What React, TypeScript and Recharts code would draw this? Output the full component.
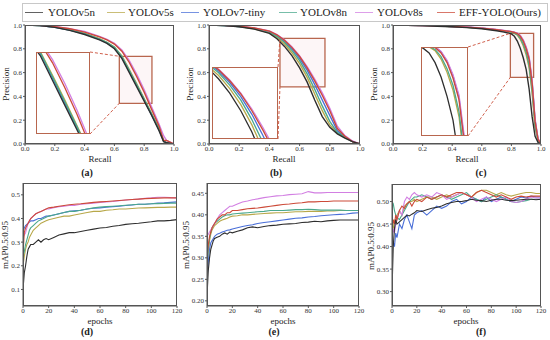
import React from 'react';
import { LineChart, Line, XAxis, YAxis, ReferenceArea } from 'recharts';

const FONT = '"Liberation Serif", "Times New Roman", serif';

const models = ['YOLOv5n', 'YOLOv5s', 'YOLOv7-tiny', 'YOLOv8n', 'YOLOv8s', 'EFF-YOLO(Ours)'];
const colors = ['#2e2e2e', '#b8a84a', '#4a6fd8', '#4aa88c', '#d27fe2', '#cc4a38'];

// ---- PR curves (a) ----
const recallA = [0, 0.1, 0.2, 0.3, 0.4, 0.5, 0.55, 0.6, 0.65, 0.7, 0.75, 0.8, 0.85, 0.9, 0.93, 0.95, 1.0];
const precA = [
  [1, 0.995, 0.98, 0.955, 0.92, 0.875, 0.845, 0.8, 0.72, 0.6, 0.48, 0.36, 0.24, 0.11, 0.02, 0.01, 0],
  [1, 0.995, 0.982, 0.96, 0.93, 0.885, 0.855, 0.815, 0.74, 0.625, 0.505, 0.38, 0.255, 0.13, 0.03, 0.01, 0],
  [1, 0.995, 0.98, 0.957, 0.925, 0.88, 0.85, 0.808, 0.73, 0.61, 0.49, 0.37, 0.245, 0.12, 0.025, 0.01, 0],
  [1, 0.995, 0.982, 0.958, 0.928, 0.882, 0.852, 0.812, 0.735, 0.617, 0.497, 0.375, 0.25, 0.125, 0.03, 0.01, 0],
  [1, 0.997, 0.988, 0.97, 0.945, 0.905, 0.88, 0.845, 0.79, 0.7, 0.585, 0.455, 0.31, 0.165, 0.07, 0.03, 0],
  [1, 0.997, 0.986, 0.968, 0.94, 0.9, 0.875, 0.84, 0.78, 0.685, 0.565, 0.435, 0.29, 0.15, 0.03, 0.03, 0],
];

// ---- PR curves (b) ----
const recallB = [0, 0.1, 0.2, 0.3, 0.4, 0.45, 0.5, 0.55, 0.6, 0.65, 0.7, 0.75, 0.8, 0.85, 0.9, 0.95, 1.0];
const precB = [
  [1, 0.995, 0.985, 0.965, 0.93, 0.885, 0.82, 0.74, 0.64, 0.52, 0.37, 0.23, 0.14, 0.085, 0.05, 0.02, 0],
  [1, 0.995, 0.986, 0.967, 0.935, 0.895, 0.84, 0.765, 0.675, 0.56, 0.42, 0.28, 0.16, 0.09, 0.055, 0.02, 0],
  [1, 0.996, 0.988, 0.972, 0.944, 0.912, 0.865, 0.8, 0.72, 0.62, 0.5, 0.37, 0.24, 0.11, 0.06, 0.02, 0],
  [1, 0.996, 0.987, 0.97, 0.94, 0.905, 0.855, 0.785, 0.7, 0.59, 0.46, 0.32, 0.19, 0.095, 0.06, 0.02, 0],
  [1, 0.997, 0.99, 0.976, 0.95, 0.92, 0.875, 0.815, 0.74, 0.65, 0.545, 0.43, 0.3, 0.15, 0.07, 0.025, 0],
  [1, 0.997, 0.99, 0.975, 0.948, 0.918, 0.872, 0.81, 0.735, 0.64, 0.53, 0.41, 0.28, 0.13, 0.065, 0.02, 0],
];

// ---- PR curves (c) ----
const recallC = [0, 0.1, 0.2, 0.3, 0.4, 0.5, 0.6, 0.7, 0.75, 0.8, 0.82, 0.84, 0.86, 0.88, 0.9, 0.92, 0.94, 0.96, 0.98, 1.0];
const precC = [
  [1, 0.998, 0.995, 0.99, 0.985, 0.978, 0.968, 0.952, 0.94, 0.925, 0.905, 0.865, 0.805, 0.725, 0.625, 0.46, 0.23, 0.065, 0.012, 0],
  [1, 0.998, 0.996, 0.992, 0.987, 0.981, 0.972, 0.958, 0.948, 0.938, 0.93, 0.915, 0.88, 0.825, 0.75, 0.64, 0.43, 0.14, 0.03, 0],
  [1, 0.998, 0.996, 0.993, 0.988, 0.982, 0.974, 0.96, 0.952, 0.944, 0.938, 0.93, 0.91, 0.87, 0.81, 0.72, 0.52, 0.2, 0.04, 0],
  [1, 0.998, 0.996, 0.992, 0.987, 0.981, 0.972, 0.958, 0.949, 0.94, 0.932, 0.92, 0.89, 0.84, 0.77, 0.66, 0.455, 0.155, 0.03, 0],
  [1, 0.998, 0.996, 0.993, 0.988, 0.983, 0.975, 0.962, 0.954, 0.946, 0.94, 0.932, 0.912, 0.875, 0.815, 0.73, 0.535, 0.21, 0.045, 0],
  [1, 0.998, 0.996, 0.993, 0.988, 0.982, 0.974, 0.96, 0.952, 0.944, 0.937, 0.928, 0.905, 0.865, 0.8, 0.71, 0.51, 0.19, 0.04, 0],
];

// ---- mAP0.5:0.95 vs epochs (d), (e) ----
const epochsDE = [0, 1, 2, 3, 4, 5, 6, 8, 10, 12, 14, 16, 18, 20, 24, 28, 32, 36, 40, 45, 50, 55, 60, 65, 70, 75, 80, 85, 90, 95, 100, 105, 110, 115, 120];
const mapD = [
  [0.1, 0.17, 0.2, 0.24, 0.27, 0.28, 0.29, 0.29, 0.3, 0.31, 0.3, 0.31, 0.315, 0.31, 0.32, 0.33, 0.335, 0.34, 0.34, 0.345, 0.35, 0.355, 0.36, 0.362, 0.367, 0.37, 0.375, 0.378, 0.38, 0.383, 0.386, 0.39, 0.39, 0.392, 0.395],
  [0.2, 0.24, 0.27, 0.29, 0.3, 0.32, 0.33, 0.35, 0.36, 0.37, 0.38, 0.385, 0.39, 0.395, 0.4, 0.405, 0.41, 0.41, 0.415, 0.42, 0.425, 0.43, 0.43, 0.435, 0.437, 0.44, 0.44, 0.442, 0.444, 0.445, 0.446, 0.447, 0.447, 0.448, 0.448],
  [0.34, 0.36, 0.37, 0.375, 0.38, 0.385, 0.39, 0.39, 0.395, 0.4, 0.4, 0.405, 0.41, 0.41, 0.415, 0.42, 0.425, 0.43, 0.432, 0.435, 0.44, 0.443, 0.445, 0.448, 0.45, 0.452, 0.455, 0.457, 0.46, 0.46, 0.462, 0.465, 0.466, 0.468, 0.47],
  [0.24, 0.26, 0.29, 0.31, 0.33, 0.35, 0.36, 0.37, 0.38, 0.39, 0.395, 0.4, 0.405, 0.41, 0.415, 0.42, 0.425, 0.43, 0.43, 0.435, 0.44, 0.445, 0.448, 0.45, 0.452, 0.454, 0.456, 0.458, 0.46, 0.46, 0.462, 0.463, 0.464, 0.465, 0.465],
  [0.35, 0.33, 0.34, 0.36, 0.38, 0.39, 0.4, 0.41, 0.42, 0.425, 0.43, 0.435, 0.44, 0.44, 0.445, 0.45, 0.452, 0.455, 0.455, 0.46, 0.462, 0.465, 0.468, 0.47, 0.472, 0.475, 0.478, 0.48, 0.482, 0.485, 0.487, 0.49, 0.49, 0.488, 0.487],
  [0.25, 0.34, 0.36, 0.37, 0.38, 0.39, 0.4, 0.41, 0.42, 0.425, 0.43, 0.435, 0.44, 0.445, 0.448, 0.452, 0.455, 0.458, 0.46, 0.462, 0.465, 0.468, 0.47, 0.472, 0.474, 0.476, 0.478, 0.48, 0.482, 0.484, 0.485, 0.486, 0.487, 0.487, 0.487],
];
const mapE = [
  [0.21, 0.27, 0.3, 0.32, 0.33, 0.34, 0.345, 0.348, 0.35, 0.355, 0.358, 0.355, 0.36, 0.358, 0.362, 0.365, 0.37, 0.372, 0.37, 0.373, 0.375, 0.376, 0.378, 0.379, 0.38, 0.382, 0.383, 0.385, 0.384, 0.386, 0.387, 0.388, 0.388, 0.388, 0.388],
  [0.27, 0.31, 0.34, 0.355, 0.365, 0.37, 0.375, 0.38, 0.385, 0.388, 0.39, 0.392, 0.395, 0.397, 0.398, 0.4, 0.4, 0.401, 0.402, 0.403, 0.404, 0.405, 0.405, 0.406, 0.407, 0.407, 0.408, 0.408, 0.408, 0.409, 0.409, 0.41, 0.41, 0.41, 0.41],
  [0.25, 0.29, 0.32, 0.335, 0.34, 0.345, 0.35, 0.355, 0.357, 0.36, 0.362, 0.364, 0.365, 0.367, 0.37, 0.373, 0.375, 0.377, 0.38, 0.382, 0.384, 0.386, 0.388, 0.39, 0.392, 0.393, 0.395, 0.396, 0.398, 0.399, 0.4, 0.401, 0.402, 0.404, 0.405],
  [0.29, 0.32, 0.345, 0.36, 0.37, 0.375, 0.38, 0.385, 0.39, 0.395, 0.398, 0.4, 0.4, 0.402, 0.403, 0.404, 0.405, 0.406, 0.407, 0.408, 0.41, 0.41, 0.41, 0.411, 0.412, 0.412, 0.413, 0.412, 0.411, 0.411, 0.411, 0.411, 0.41, 0.41, 0.41],
  [0.35, 0.355, 0.36, 0.365, 0.37, 0.375, 0.38, 0.39, 0.4, 0.405, 0.41, 0.415, 0.42, 0.42, 0.425, 0.43, 0.432, 0.435, 0.437, 0.44, 0.442, 0.444, 0.445, 0.447, 0.448, 0.449, 0.454, 0.451, 0.451, 0.452, 0.452, 0.452, 0.452, 0.452, 0.452],
  [0.3, 0.33, 0.35, 0.36, 0.37, 0.375, 0.38, 0.39, 0.395, 0.4, 0.4, 0.405, 0.405, 0.41, 0.41, 0.412, 0.414, 0.415, 0.416, 0.418, 0.42, 0.422, 0.424, 0.425, 0.427, 0.428, 0.43, 0.43, 0.431, 0.431, 0.432, 0.432, 0.432, 0.432, 0.432],
];

// ---- mAP0.5:0.95 vs epochs (f) ----
const epochsF = [0, 1, 2, 3, 4, 6, 8, 10, 12, 14, 16, 18, 20, 24, 28, 32, 36, 40, 44, 48, 52, 56, 60, 64, 68, 72, 76, 80, 84, 88, 92, 96, 100, 104, 108, 112, 116, 120];
const mapF = [
  [0.3, 0.4, 0.44, 0.46, 0.45, 0.455, 0.46, 0.465, 0.47, 0.468, 0.472, 0.475, 0.48, 0.478, 0.482, 0.485, 0.487, 0.49, 0.495, 0.498, 0.5, 0.5, 0.502, 0.505, 0.503, 0.502, 0.5, 0.503, 0.505, 0.505, 0.503, 0.502, 0.503, 0.504, 0.505, 0.505, 0.504, 0.505],
  [0.45, 0.44, 0.46, 0.45, 0.47, 0.48, 0.47, 0.49, 0.495, 0.5, 0.5, 0.505, 0.5, 0.505, 0.51, 0.51, 0.505, 0.51, 0.515, 0.51, 0.515, 0.52, 0.515, 0.51, 0.52, 0.525, 0.525, 0.52, 0.515, 0.52, 0.515, 0.512, 0.515, 0.518, 0.52, 0.52, 0.518, 0.518],
  [0.39, 0.41, 0.4, 0.43, 0.42, 0.45, 0.44, 0.46, 0.47, 0.455, 0.44, 0.47, 0.475, 0.48, 0.47, 0.48, 0.49, 0.485, 0.49, 0.5, 0.505, 0.495, 0.5, 0.51, 0.505, 0.5, 0.51, 0.5, 0.505, 0.51, 0.505, 0.5, 0.505, 0.51, 0.508, 0.512, 0.51, 0.51],
  [0.5, 0.495, 0.48, 0.47, 0.465, 0.46, 0.47, 0.48, 0.49, 0.5, 0.505, 0.51, 0.51, 0.515, 0.51, 0.505, 0.51, 0.515, 0.51, 0.505, 0.51, 0.515, 0.52, 0.51, 0.505, 0.5, 0.505, 0.51, 0.515, 0.51, 0.505, 0.5, 0.498, 0.5, 0.502, 0.505, 0.505, 0.505],
  [0.42, 0.44, 0.43, 0.45, 0.46, 0.48, 0.47, 0.5, 0.51, 0.505, 0.515, 0.52, 0.515, 0.51, 0.515, 0.51, 0.52, 0.515, 0.505, 0.51, 0.515, 0.52, 0.515, 0.51, 0.5, 0.505, 0.51, 0.505, 0.5, 0.505, 0.51, 0.5, 0.498, 0.5, 0.505, 0.51, 0.508, 0.508],
  [0.44, 0.46, 0.45, 0.47, 0.46, 0.48, 0.49, 0.485, 0.495, 0.5, 0.49, 0.5, 0.505, 0.5, 0.51, 0.505, 0.51, 0.515, 0.51, 0.515, 0.52, 0.52, 0.515, 0.51, 0.52, 0.525, 0.52, 0.515, 0.51, 0.515, 0.51, 0.505, 0.51, 0.512, 0.51, 0.512, 0.512, 0.512],
];

const prTicks = [0, 0.2, 0.4, 0.6, 0.8, 1.0];
const epochTicks = [0, 20, 40, 60, 80, 100, 120];
const yTicksD = [0.1, 0.2, 0.3, 0.4, 0.5];
const yTicksE = [0.2, 0.25, 0.3, 0.35, 0.4, 0.45];
const yTicksF = [0.3, 0.35, 0.4, 0.45, 0.5];

const drawOrder = [1, 2, 3, 4, 5, 0];

type Box = { l: number; t: number; r: number; b: number };
type Zoom = { x1: number; x2: number; y1: number; y2: number };

const toPts = (xs: number[], ys: number[]) => xs.map((x, i) => ({ x, y: ys[i] }));

const YW = 22;
const XH = 12;
const tickStyle = { fontSize: 7, fill: '#333', fontFamily: FONT };

function Panel(props: {
  box: Box;
  xDomain: [number, number];
  yDomain: [number, number];
  xTicks: number[];
  yTicks: number[];
  xFmt: (v: number) => string;
  yFmt: (v: number) => string;
  xs: number[];
  series: number[][];
  sw: number;
  zoom?: Zoom;
}) {
  const { box, xDomain, yDomain, xTicks, yTicks, xFmt, yFmt, xs, series, sw, zoom } = props;
  const w = box.r - box.l;
  const h = box.b - box.t;
  return (
    <div style={{ position: 'absolute', left: box.l - YW, top: box.t - 3 }}>
      <LineChart width={w + YW + 8} height={h + XH + 3} margin={{ top: 3, right: 8, left: 0, bottom: 0 }}>
        <XAxis
          dataKey="x"
          type="number"
          domain={xDomain}
          ticks={xTicks}
          tickFormatter={xFmt}
          height={XH}
          tickSize={2}
          tickMargin={0}
          tick={tickStyle}
          stroke="#555"
          allowDataOverflow
        />
        <YAxis
          type="number"
          domain={yDomain}
          ticks={yTicks}
          tickFormatter={yFmt}
          width={YW}
          tickSize={2}
          tickMargin={1}
          tick={tickStyle}
          stroke="#555"
          allowDataOverflow
        />
        {zoom && (
          <ReferenceArea
            x1={zoom.x1}
            x2={zoom.x2}
            y1={zoom.y1}
            y2={zoom.y2}
            stroke="#b8664e"
            strokeWidth={1.3}
            fill="#fbeef0"
            fillOpacity={0.5}
          />
        )}
        {drawOrder.map((i) => (
          <Line
            key={models[i]}
            data={toPts(xs, series[i])}
            dataKey="y"
            stroke={colors[i]}
            strokeWidth={sw}
            dot={false}
            isAnimationActive={false}
          />
        ))}
      </LineChart>
      <div
        style={{
          position: 'absolute',
          left: YW,
          top: 3,
          width: w,
          height: h,
          border: '1px solid #555',
          boxSizing: 'border-box',
          pointerEvents: 'none',
        }}
      />
    </div>
  );
}

function Inset(props: { box: Box; zoom: Zoom; xs: number[]; series: number[][] }) {
  const { box, zoom, xs, series } = props;
  const w = box.r - box.l;
  const h = box.b - box.t;
  return (
    <div style={{ position: 'absolute', left: box.l, top: box.t, width: w, height: h, background: '#fff' }}>
      <LineChart width={w} height={h} margin={{ top: 0, right: 0, left: 0, bottom: 0 }}>
        <XAxis dataKey="x" type="number" domain={[zoom.x1, zoom.x2]} hide allowDataOverflow />
        <YAxis type="number" domain={[zoom.y1, zoom.y2]} hide allowDataOverflow />
        {drawOrder.map((i) => (
          <Line
            key={models[i]}
            data={toPts(xs, series[i])}
            dataKey="y"
            stroke={colors[i]}
            strokeWidth={1.3}
            dot={false}
            isAnimationActive={false}
          />
        ))}
      </LineChart>
      <div
        style={{
          position: 'absolute',
          inset: 0,
          border: '1.5px solid #b8664e',
          boxSizing: 'border-box',
        }}
      />
    </div>
  );
}

// pixel position of a data value inside a panel's plot box
const px = (box: Box, d: [number, number], v: number) => box.l + ((v - d[0]) / (d[1] - d[0])) * (box.r - box.l);
const py = (box: Box, d: [number, number], v: number) => box.b - ((v - d[0]) / (d[1] - d[0])) * (box.b - box.t);

function Connectors(props: { box: Box; zoom: Zoom; inset: Box }) {
  const { box, zoom, inset } = props;
  const d: [number, number] = [0, 1];
  const rx = px(box, d, zoom.x1);
  const ryTop = py(box, d, zoom.y2);
  const ryBot = py(box, d, zoom.y1);
  return (
    <>
      <line x1={inset.r} y1={inset.t} x2={rx} y2={ryTop} stroke="#d0604c" strokeWidth={1} strokeDasharray="3 2" />
      <line x1={inset.r} y1={inset.b} x2={rx} y2={ryBot} stroke="#d0604c" strokeWidth={1} strokeDasharray="3 2" />
    </>
  );
}

const fmt1 = (v: number) => v.toFixed(1);
const fmt2 = (v: number) => v.toFixed(2);
const fmt0 = (v: number) => String(v);

const boxA: Box = { l: 25, t: 25, r: 174, b: 144 };
const boxB: Box = { l: 209, t: 25, r: 360, b: 144 };
const boxC: Box = { l: 393, t: 25, r: 541, b: 144 };
const boxD: Box = { l: 23, t: 183, r: 177, b: 306 };
const boxE: Box = { l: 207, t: 183, r: 359, b: 306 };
const boxF: Box = { l: 392, t: 184, r: 541, b: 306 };

const zoomA: Zoom = { x1: 0.633, x2: 0.852, y1: 0.342, y2: 0.737 };
const zoomB: Zoom = { x1: 0.47, x2: 0.768, y1: 0.48, y2: 0.888 };
const zoomC: Zoom = { x1: 0.793, x2: 0.95, y1: 0.56, y2: 0.93 };

const insetA: Box = { l: 36, t: 52, r: 90, b: 134 };
const insetB: Box = { l: 212, t: 67, r: 278, b: 139 };
const insetC: Box = { l: 421, t: 47, r: 468, b: 136 };

const legendX = [
  [25, 48],
  [107, 128],
  [181, 203],
  [279, 300],
  [355, 377],
  [437, 459],
];

function Txt(props: { x: number; y: number; text: string; size: number; rotate?: boolean; bold?: boolean }) {
  const { x, y, text, size, rotate, bold } = props;
  return (
    <div
      style={{
        position: 'absolute',
        left: x,
        top: y,
        transform: `translate(-50%, -50%)${rotate ? ' rotate(-90deg)' : ''}`,
        fontFamily: FONT,
        fontSize: size,
        fontWeight: bold ? 700 : 400,
        color: '#222',
        whiteSpace: 'nowrap',
        lineHeight: 1,
      }}
    >
      {text}
    </div>
  );
}

export default function App() {
  return (
    <div style={{ position: 'absolute', left: 0, top: 0, width: 550, height: 340, background: '#fff', overflow: 'hidden' }}>
      {/* legend */}
      <div
        style={{
          position: 'absolute',
          left: 22,
          top: 3,
          width: 526,
          height: 19,
          border: '1px solid #c8c8c8',
          boxSizing: 'border-box',
        }}
      />
      {models.map((m, i) => (
        <React.Fragment key={m}>
          <div
            style={{
              position: 'absolute',
              left: legendX[i][0],
              top: 12,
              width: 18,
              height: 0,
              borderTop: `1.5px solid ${colors[i]}`,
              opacity: 0.75,
            }}
          />
          <div
            style={{
              position: 'absolute',
              left: legendX[i][1],
              top: 6,
              fontFamily: FONT,
              fontSize: 11,
              lineHeight: '12px',
              color: '#222',
              whiteSpace: 'nowrap',
            }}
          >
            {m}
          </div>
        </React.Fragment>
      ))}

      <Panel box={boxA} xDomain={[0, 1]} yDomain={[0, 1]} xTicks={prTicks} yTicks={prTicks} xFmt={fmt1} yFmt={fmt1} xs={recallA} series={precA} sw={1.4} zoom={zoomA} />
      <Panel box={boxB} xDomain={[0, 1]} yDomain={[0, 1]} xTicks={prTicks} yTicks={prTicks} xFmt={fmt1} yFmt={fmt1} xs={recallB} series={precB} sw={1.4} zoom={zoomB} />
      <Panel box={boxC} xDomain={[0, 1]} yDomain={[0, 1]} xTicks={prTicks} yTicks={prTicks} xFmt={fmt1} yFmt={fmt1} xs={recallC} series={precC} sw={1.4} zoom={zoomC} />
      <Inset box={insetA} zoom={zoomA} xs={recallA} series={precA} />
      <Inset box={insetB} zoom={zoomB} xs={recallB} series={precB} />
      <Inset box={insetC} zoom={zoomC} xs={recallC} series={precC} />

      <svg width={550} height={340} style={{ position: 'absolute', left: 0, top: 0, pointerEvents: 'none' }}>
        <Connectors box={boxA} zoom={zoomA} inset={insetA} />
        <Connectors box={boxB} zoom={zoomB} inset={insetB} />
        <Connectors box={boxC} zoom={zoomC} inset={insetC} />
      </svg>

      <Panel box={boxD} xDomain={[0, 120]} yDomain={[0.03, 0.55]} xTicks={epochTicks} yTicks={yTicksD} xFmt={fmt0} yFmt={fmt1} xs={epochsDE} series={mapD} sw={1.1} />
      <Panel box={boxE} xDomain={[0, 120]} yDomain={[0.188, 0.474]} xTicks={epochTicks} yTicks={yTicksE} xFmt={fmt0} yFmt={fmt2} xs={epochsDE} series={mapE} sw={1.1} />
      <Panel box={boxF} xDomain={[0, 120]} yDomain={[0.268, 0.539]} xTicks={epochTicks} yTicks={yTicksF} xFmt={fmt0} yFmt={fmt2} xs={epochsF} series={mapF} sw={1.1} />

      {/* axis titles */}
      <Txt x={6} y={84} text="Precision" size={9} rotate />
      <Txt x={190} y={84} text="Precision" size={9} rotate />
      <Txt x={374} y={84} text="Precision" size={9} rotate />
      <Txt x={100} y={158.5} text="Recall" size={9} />
      <Txt x={284} y={158.5} text="Recall" size={9} />
      <Txt x={467} y={158.5} text="Recall" size={9} />
      <Txt x={5} y={245} text="mAP0.5:0.95" size={9} rotate />
      <Txt x={186} y={245} text="mAP0.5:0.95" size={9} rotate />
      <Txt x={371} y={246} text="mAP0.5:0.95" size={9} rotate />
      <Txt x={100} y={320.5} text="epochs" size={9} />
      <Txt x={283} y={320.5} text="epochs" size={9} />
      <Txt x={466} y={320.5} text="epochs" size={9} />

      {/* panel labels */}
      <Txt x={87} y={173} text="(a)" size={10} bold />
      <Txt x={276} y={173} text="(b)" size={10} bold />
      <Txt x={481} y={173} text="(c)" size={10} bold />
      <Txt x={87} y={331.5} text="(d)" size={10} bold />
      <Txt x={274} y={331.5} text="(e)" size={10} bold />
      <Txt x={481} y={331.5} text="(f)" size={10} bold />
    </div>
  );
}
